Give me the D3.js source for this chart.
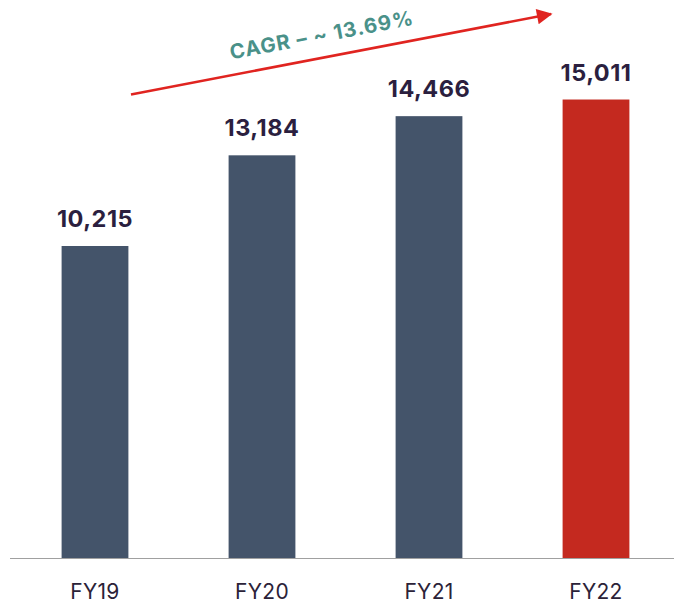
<!DOCTYPE html>
<html>
<head>
<meta charset="utf-8">
<script src="https://cdn.jsdelivr.net/npm/d3@7"></script>
<style>
  body { margin: 0; background: #fff; }
  svg { display: block; font-family: Inter, "Noto Sans", sans-serif; }
</style>
</head>
<body>
<svg id="chart" width="674" height="606"></svg>
<script>
// chart data
const years = ["FY19", "FY20", "FY21", "FY22"];
const revenue = [10215, 13184, 14466, 15011];
const cagrLabel = "CAGR \u2013 ~ 13.69%";

const svg = d3.select("#chart");
const baseY = 558;

const x = d3.scaleBand()
    .domain(years)
    .range([11.5, 679.5])
    .paddingInner(0.6)
    .paddingOuter(0.3);

// y scale from zero, 10,215 -> 312px tall
const y = d3.scaleLinear()
    .domain([0, 10215])
    .range([baseY, baseY - 312]);

// bars
svg.selectAll("rect.bar")
    .data(years)
    .join("rect")
    .attr("class", "bar")
    .attr("x", d => x(d))
    .attr("width", x.bandwidth())
    .attr("y", (d, i) => y(revenue[i]))
    .attr("height", (d, i) => baseY - y(revenue[i]))
    .attr("fill", (d, i) => i === years.length - 1 ? "#c4291f" : "#44546a");

// axis line
svg.append("line")
    .attr("x1", 10).attr("x2", 674)
    .attr("y1", baseY + 0.5).attr("y2", baseY + 0.5)
    .attr("stroke", "#a0a0a0")
    .attr("stroke-width", 1.2);

// category labels
svg.selectAll("text.cat")
    .data(years)
    .join("text")
    .attr("class", "cat")
    .attr("x", d => x(d) + x.bandwidth() / 2)
    .attr("y", 599)
    .attr("text-anchor", "middle")
    .attr("font-size", 21)
    .attr("letter-spacing", 0.3)
    .attr("fill", "#2b2238")
    .text(d => d);

// value labels
const fmt = d3.format(",");
svg.selectAll("text.val")
    .data(revenue)
    .join("text")
    .attr("class", "val")
    .attr("x", (d, i) => x(years[i]) + x.bandwidth() / 2)
    .attr("y", d => y(d) - 19)
    .attr("text-anchor", "middle")
    .attr("font-size", 23.5)
    .attr("font-weight", 700)
    .attr("letter-spacing", 0.5)
    .attr("fill", "#2b1f3f")
    .text(d => fmt(d));

// growth arrow
svg.append("defs").append("marker")
    .attr("id", "head")
    .attr("viewBox", "0 0 10 10")
    .attr("refX", 9).attr("refY", 5)
    .attr("markerWidth", 7).attr("markerHeight", 6)
    .attr("markerUnits", "strokeWidth")
    .attr("orient", "auto")
    .append("path")
    .attr("d", "M0,0 L10,5 L0,10 Z")
    .attr("fill", "#e02420");

svg.append("line")
    .attr("x1", 131).attr("y1", 94.5)
    .attr("x2", 551).attr("y2", 14)
    .attr("stroke", "#e02420")
    .attr("stroke-width", 2.6)
    .attr("marker-end", "url(#head)");

svg.append("text")
    .attr("transform", "translate(323,42) rotate(-10.8)")
    .attr("text-anchor", "middle")
    .attr("font-size", 20.5)
    .attr("font-weight", 700)
    .attr("letter-spacing", 1)
    .attr("fill", "#4a9189")
    .text(cagrLabel);
</script>
</body>
</html>
